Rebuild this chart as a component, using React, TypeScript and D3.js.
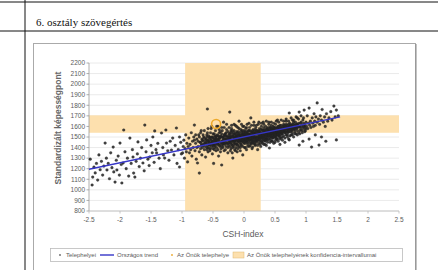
import { scaleLinear, line } from 'd3';

const heading = '6. osztály szövegértés';
const yTitle = 'Standardizált képességpont';
const xTitle = 'CSH-index';

const yTicks = [800, 900, 1000, 1100, 1200, 1300, 1400, 1500, 1600, 1700, 1800, 1900, 2000, 2100, 2200];
const xTicks = [-2.5, -2, -1.5, -1, -0.5, 0, 0.5, 1, 1.5, 2, 2.5];

// confidence intervals of the own site
const bandX = [-0.95, 0.27];
const bandY = [1540, 1705];
const ownSite = [-0.45, 1623];

const trendX = [-2.5, 1.55];
const trendY = [1195, 1690];

const leftTail: [number, number][] = [
  [-2.48, 1290], [-2.45, 1046], [-2.44, 1121], [-2.42, 1215], [-2.4, 1160], [-2.38, 1250], [-2.36, 1093],
  [-2.34, 1330], [-2.32, 1190], [-2.3, 1270], [-2.28, 1140], [-2.26, 1225], [-2.24, 1443], [-2.22, 1300],
  [-2.21, 1188], [-2.19, 1250], [-2.17, 1105], [-2.15, 1350], [-2.13, 1210], [-2.11, 1405], [-2.1, 1170],
  [-2.08, 1074], [-2.06, 1280], [-2.05, 1188], [-2.03, 1320], [-2.01, 1140], [-2.0, 1443], [-1.98, 1240],
  [-1.97, 1065], [-1.95, 1254], [-1.94, 1566], [-1.92, 1360], [-1.9, 1200], [-1.88, 1300], [-1.86, 1130],
  [-1.84, 1490], [-1.82, 1250], [-1.8, 1380], [-1.79, 1311], [-1.78, 1159], [-1.76, 1121], [-1.74, 1270],
  [-1.72, 1340], [-1.71, 1453], [-1.69, 1220], [-1.67, 1300], [-1.65, 1400], [-1.63, 1254], [-1.61, 1180],
  [-1.6, 1613], [-1.58, 1360], [-1.57, 1472], [-1.55, 1290], [-1.53, 1230], [-1.52, 1311], [-1.5, 1420],
  [-1.48, 1350], [-1.47, 1500], [-1.45, 1260], [-1.44, 1557], [-1.42, 1380], [-1.41, 1349], [-1.39, 1440],
  [-1.37, 1300], [-1.35, 1200], [-1.33, 1538], [-1.31, 1400], [-1.3, 1330], [-1.28, 1301], [-1.26, 1566],
  [-1.25, 1443], [-1.23, 1370], [-1.21, 1280], [-1.19, 1460], [-1.17, 1377], [-1.15, 1490], [-1.13, 1330],
  [-1.11, 1420], [-1.09, 1585], [-1.08, 1250], [-1.06, 1380], [-1.04, 1500], [-1.04, 1216], [-1.02, 1450],
  [-1.01, 1340], [-0.99, 1349], [-0.98, 1410]
];

const midPoints: [number, number][] = [
  [-0.97, 1470], [-0.96, 1300], [-0.95, 1390], [-0.94, 1520], [-0.93, 1360], [-0.92, 1440], [-0.91, 1264],
  [-0.9, 1410], [-0.89, 1490], [-0.88, 1350], [-0.87, 1430], [-0.86, 1380], [-0.85, 1540], [-0.84, 1320],
  [-0.83, 1460], [-0.82, 1400], [-0.81, 1500], [-0.8, 1613], [-0.79, 1370], [-0.78, 1440], [-0.77, 1290],
  [-0.76, 1480], [-0.75, 1254], [-0.74, 1410], [-0.73, 1520], [-0.72, 1159], [-0.72, 1360], [-0.71, 1450],
  [-0.7, 1390], [-0.69, 1560], [-0.68, 1330], [-0.67, 1470], [-0.66, 1420], [-0.65, 1500], [-0.64, 1380],
  [-0.63, 1440], [-0.62, 1310], [-0.61, 1480], [-0.6, 1400], [-0.59, 1765], [-0.59, 1540], [-0.58, 1360],
  [-0.57, 1460], [-0.56, 1430], [-0.55, 1500], [-0.54, 1390], [-0.53, 1580], [-0.52, 1450], [-0.51, 1340],
  [-0.5, 1420], [-0.5, 1490], [-0.49, 1250], [-0.48, 1530], [-0.47, 1400], [-0.46, 1460], [-0.45, 1370],
  [-0.44, 1510], [-0.43, 1440], [-0.42, 1600], [-0.41, 1320], [-0.4, 1480], [-0.39, 1410], [-0.38, 1550],
  [-0.37, 1390], [-0.36, 1235], [-0.36, 1460], [-0.35, 1500], [-0.34, 1430], [-0.33, 1640], [-0.32, 1370],
  [-0.31, 1520], [-0.3, 1450], [-0.29, 1410], [-0.28, 1570], [-0.27, 1480], [-0.26, 1350], [-0.25, 1440],
  [-0.24, 1500], [-0.23, 1736], [-0.23, 1410]
];

const corePoints: [number, number][] = [
  [-0.22, 1460], [-0.22, 1540], [-0.21, 1390], [-0.21, 1500], [-0.2, 1430], [-0.2, 1580], [-0.19, 1470],
  [-0.19, 1350], [-0.18, 1301], [-0.18, 1520], [-0.17, 1450], [-0.17, 1410], [-0.16, 1560], [-0.16, 1490],
  [-0.15, 1380], [-0.15, 1530], [-0.14, 1440], [-0.14, 1610], [-0.13, 1470], [-0.13, 1400], [-0.12, 1510],
  [-0.12, 1550], [-0.11, 1430], [-0.11, 1360], [-0.1, 1490], [-0.1, 1590], [-0.09, 1460], [-0.09, 1520],
  [-0.08, 1410], [-0.08, 1650], [-0.07, 1480], [-0.07, 1540], [-0.06, 1440], [-0.06, 1370], [-0.05, 1500],
  [-0.05, 1570], [-0.04, 1460], [-0.04, 1420], [-0.03, 1530], [-0.03, 1490], [-0.02, 1330], [-0.02, 1600],
  [-0.01, 1450], [-0.01, 1510], [0.0, 1470], [0.0, 1560], [0.01, 1400], [0.01, 1530], [0.02, 1490],
  [0.02, 1440], [0.03, 1580], [0.03, 1510], [0.04, 1460], [0.04, 1380], [0.05, 1540], [0.05, 1620],
  [0.06, 1480], [0.06, 1430], [0.07, 1520], [0.07, 1560], [0.08, 1450], [0.08, 1500], [0.09, 1410],
  [0.09, 1590], [0.1, 1470], [0.1, 1530], [0.11, 1440], [0.11, 1680], [0.12, 1500], [0.12, 1550],
  [0.13, 1460], [0.13, 1390], [0.14, 1405], [0.14, 1520], [0.15, 1570], [0.15, 1480], [0.16, 1440],
  [0.16, 1610], [0.17, 1510], [0.17, 1460], [0.18, 1540], [0.18, 1420], [0.19, 1490], [0.19, 1590],
  [0.2, 1530], [0.2, 1450], [0.21, 1500], [0.21, 1560], [0.22, 1470], [0.22, 1380], [0.23, 1550],
  [0.23, 1620], [0.24, 1490], [0.24, 1440], [0.25, 1520], [0.25, 1580], [0.26, 1460], [0.26, 1500],
  [0.27, 1540], [0.27, 1410], [0.28, 1480], [0.28, 1600], [0.29, 1520], [0.29, 1450], [0.3, 1560],
  [0.3, 1500], [0.31, 1470], [0.31, 1640], [0.32, 1530], [0.32, 1430], [0.33, 1490], [0.33, 1570],
  [0.34, 1510], [0.34, 1460], [0.35, 1550], [0.35, 1600], [0.36, 1480], [0.36, 1420], [0.37, 1530],
  [0.37, 1580], [0.38, 1500], [0.38, 1450], [0.39, 1560], [0.39, 1510], [0.4, 1620], [0.4, 1480],
  [0.41, 1396], [0.41, 1540], [0.42, 1520], [0.42, 1590], [0.43, 1470], [0.43, 1550], [0.44, 1500],
  [0.44, 1640], [0.45, 1530], [0.45, 1460], [0.46, 1570], [0.46, 1510], [0.47, 1490], [0.47, 1600],
  [0.48, 1550], [0.48, 1440], [0.49, 1520], [0.49, 1580], [0.5, 1500], [0.5, 1560], [0.51, 1470],
  [0.51, 1620], [0.52, 1540], [0.52, 1510], [0.53, 1590], [0.53, 1480], [0.54, 1550], [0.54, 1660],
  [0.55, 1520], [0.55, 1460], [0.56, 1570], [0.56, 1600], [0.57, 1500], [0.57, 1540], [0.58, 1430],
  [0.58, 1610], [0.59, 1560], [0.59, 1520], [0.6, 1580], [0.6, 1490]
];

const coreFill: [number, number][] = [
  [-0.7, 1450], [-0.69, 1420], [-0.68, 1480], [-0.67, 1400], [-0.66, 1460], [-0.65, 1430], [-0.64, 1490],
  [-0.63, 1410], [-0.62, 1470], [-0.61, 1440], [-0.6, 1500], [-0.59, 1420], [-0.58, 1470], [-0.57, 1510],
  [-0.56, 1450], [-0.55, 1420], [-0.54, 1480], [-0.53, 1440], [-0.52, 1500], [-0.51, 1460], [-0.5, 1530],
  [-0.49, 1430], [-0.48, 1480], [-0.47, 1510], [-0.46, 1420], [-0.45, 1490], [-0.44, 1450], [-0.43, 1520],
  [-0.42, 1470], [-0.41, 1430], [-0.4, 1540], [-0.39, 1490], [-0.38, 1450], [-0.37, 1510], [-0.36, 1430],
  [-0.35, 1560], [-0.34, 1470], [-0.33, 1500], [-0.32, 1440], [-0.31, 1480], [-0.3, 1530], [-0.29, 1470],
  [-0.28, 1500], [-0.27, 1440], [-0.26, 1550], [-0.25, 1480], [-0.24, 1460], [-0.23, 1520], [-0.22, 1490],
  [-0.21, 1450], [-0.2, 1510], [-0.19, 1560], [-0.18, 1470], [-0.17, 1500], [-0.16, 1430], [-0.15, 1480],
  [-0.14, 1530], [-0.13, 1500], [-0.12, 1470], [-0.11, 1540], [-0.1, 1450], [-0.09, 1490], [-0.08, 1520],
  [-0.07, 1460], [-0.06, 1510], [-0.05, 1470], [-0.04, 1550], [-0.03, 1460], [-0.02, 1520], [-0.01, 1480],
  [0.0, 1510], [0.01, 1470], [0.02, 1550], [0.03, 1460], [0.04, 1520], [0.05, 1490], [0.06, 1530],
  [0.07, 1480], [0.08, 1560], [0.09, 1500], [0.1, 1510], [0.11, 1480], [0.12, 1470], [0.13, 1540],
  [0.14, 1490], [0.15, 1520], [0.16, 1500], [0.17, 1550], [0.18, 1490], [0.19, 1530], [0.2, 1500],
  [0.21, 1470], [0.22, 1530], [0.23, 1500], [0.24, 1560], [0.25, 1480], [0.26, 1540], [0.27, 1510],
  [0.28, 1530], [0.29, 1570], [0.3, 1490], [0.31, 1530], [0.32, 1560], [0.33, 1520], [0.34, 1550],
  [0.35, 1490], [0.36, 1540], [0.37, 1510], [0.38, 1570], [0.39, 1530], [0.4, 1550], [0.41, 1510],
  [0.42, 1560], [0.43, 1520], [0.44, 1570], [0.45, 1500], [0.46, 1540], [0.47, 1560], [0.48, 1520],
  [0.49, 1550], [0.5, 1590], [0.51, 1530], [0.52, 1560], [0.53, 1520], [0.54, 1580], [0.55, 1540],
  [0.56, 1520], [0.57, 1570], [0.58, 1550], [0.59, 1590], [0.6, 1540], [0.62, 1560], [0.64, 1580],
  [0.66, 1560], [0.68, 1590], [0.7, 1550], [0.72, 1580], [0.74, 1600], [0.76, 1570], [0.78, 1600],
  [0.8, 1580], [0.82, 1610], [0.84, 1590], [0.86, 1620], [0.88, 1600], [0.9, 1560]
];

const coreDense: [number, number][] = [
  [-0.6, 1380], [-0.59, 1460], [-0.58, 1400], [-0.57, 1440], [-0.56, 1490], [-0.55, 1370], [-0.54, 1430],
  [-0.53, 1470], [-0.52, 1410], [-0.51, 1500], [-0.5, 1390], [-0.49, 1450], [-0.48, 1420], [-0.47, 1470],
  [-0.46, 1500], [-0.45, 1440], [-0.44, 1400], [-0.43, 1480], [-0.42, 1430], [-0.41, 1510], [-0.4, 1460],
  [-0.39, 1420], [-0.38, 1500], [-0.37, 1450], [-0.36, 1530], [-0.35, 1410], [-0.34, 1490], [-0.33, 1450],
  [-0.32, 1520], [-0.31, 1430], [-0.3, 1480], [-0.29, 1540], [-0.28, 1440], [-0.27, 1510], [-0.26, 1470],
  [-0.25, 1420], [-0.24, 1530], [-0.23, 1480], [-0.22, 1440], [-0.21, 1560], [-0.2, 1470], [-0.19, 1420],
  [-0.18, 1500], [-0.17, 1540], [-0.16, 1460], [-0.15, 1510], [-0.14, 1470], [-0.13, 1430], [-0.12, 1490],
  [-0.11, 1510], [-0.1, 1420], [-0.09, 1550], [-0.08, 1470], [-0.07, 1510], [-0.06, 1480], [-0.05, 1430],
  [-0.04, 1500], [-0.03, 1560], [-0.02, 1470], [-0.01, 1540], [0.0, 1440], [0.01, 1500], [0.02, 1520],
  [0.03, 1480], [0.04, 1550], [0.05, 1450], [0.06, 1510], [0.07, 1500], [0.08, 1530], [0.09, 1470],
  [0.1, 1560], [0.11, 1520], [0.12, 1440], [0.13, 1500], [0.14, 1560], [0.15, 1460], [0.16, 1530],
  [0.17, 1480], [0.18, 1570], [0.19, 1460], [0.2, 1560], [0.21, 1530], [0.22, 1500], [0.23, 1470],
  [0.24, 1530], [0.25, 1550], [0.26, 1490], [0.27, 1570], [0.28, 1460], [0.29, 1500], [0.3, 1540],
  [0.31, 1500], [0.32, 1590], [0.33, 1470], [0.34, 1530], [0.35, 1520], [0.36, 1570], [0.37, 1480],
  [0.38, 1540], [0.39, 1590], [0.4, 1510], [0.41, 1570], [0.42, 1490], [0.43, 1590], [0.44, 1530],
  [0.45, 1580], [0.46, 1490], [0.47, 1530], [0.48, 1590], [0.49, 1500], [0.5, 1540], [0.51, 1580],
  [0.52, 1490], [0.53, 1550], [0.54, 1520], [0.55, 1600], [0.56, 1550], [0.57, 1510], [0.58, 1580],
  [0.59, 1540], [0.6, 1610], [0.61, 1570], [0.62, 1530], [0.63, 1600], [0.64, 1550], [0.65, 1610],
  [0.66, 1590], [0.67, 1540], [0.68, 1620], [0.69, 1580], [0.7, 1610], [0.71, 1570], [0.72, 1600],
  [0.73, 1550], [0.74, 1630], [0.75, 1590], [0.76, 1610], [0.77, 1560], [0.78, 1620], [0.79, 1590],
  [0.8, 1640], [0.82, 1570], [0.84, 1620], [0.86, 1590], [0.88, 1630], [0.9, 1600], [0.92, 1640],
  [0.94, 1590], [0.96, 1630], [0.98, 1600], [1.0, 1580]
];

const coreOuter: [number, number][] = [
  [-0.8, 1470], [-0.78, 1520], [-0.76, 1400], [-0.74, 1460], [-0.72, 1500], [-0.7, 1540], [-0.68, 1430],
  [-0.66, 1520], [-0.64, 1560], [-0.62, 1450], [-0.6, 1520], [-0.58, 1580], [-0.56, 1390], [-0.54, 1540],
  [-0.52, 1600], [-0.5, 1460], [-0.48, 1380], [-0.46, 1560], [-0.44, 1600], [-0.42, 1380], [-0.4, 1570],
  [-0.38, 1360], [-0.36, 1590], [-0.34, 1400], [-0.32, 1590], [-0.3, 1380], [-0.28, 1620], [-0.26, 1400],
  [-0.24, 1590], [-0.22, 1370], [-0.2, 1610], [-0.18, 1400], [-0.16, 1620], [-0.14, 1370], [-0.12, 1600],
  [-0.1, 1390], [-0.08, 1580], [-0.06, 1400], [-0.04, 1620], [-0.02, 1410], [0.0, 1600], [0.02, 1400],
  [0.04, 1590], [0.06, 1410], [0.08, 1630], [0.1, 1420], [0.12, 1610], [0.14, 1440], [0.16, 1640],
  [0.18, 1430], [0.2, 1610], [0.22, 1420], [0.24, 1640], [0.26, 1430], [0.28, 1630], [0.3, 1440],
  [0.32, 1620], [0.34, 1430], [0.36, 1650], [0.38, 1470], [0.4, 1640], [0.42, 1450], [0.44, 1610],
  [0.46, 1460], [0.48, 1630], [0.5, 1450], [0.52, 1650], [0.54, 1480], [0.56, 1640], [0.58, 1480],
  [0.6, 1660], [0.62, 1500], [0.64, 1650], [0.66, 1490], [0.68, 1670], [0.7, 1520], [0.72, 1650],
  [0.74, 1510], [0.76, 1680], [0.78, 1520], [0.8, 1660], [0.82, 1530], [0.84, 1690], [0.86, 1520],
  [0.88, 1670], [0.9, 1530], [0.92, 1700], [0.94, 1560], [0.96, 1680], [0.98, 1550],
  [-0.45, 1470], [-0.35, 1450], [-0.25, 1500], [-0.15, 1460], [-0.05, 1520], [0.05, 1470], [0.15, 1540],
  [0.25, 1510], [0.35, 1470], [0.45, 1550], [-0.4, 1500], [-0.3, 1510], [-0.2, 1540], [-0.1, 1520],
  [0.0, 1530], [0.1, 1490], [0.2, 1480], [0.3, 1520], [0.4, 1530], [0.5, 1520]
];

const rightTail: [number, number][] = [
  [0.61, 1530], [0.62, 1590], [0.62, 1470], [0.63, 1550], [0.64, 1620], [0.64, 1510], [0.65, 1570],
  [0.66, 1540], [0.66, 1450], [0.67, 1600], [0.68, 1520], [0.68, 1650], [0.69, 1560], [0.7, 1500],
  [0.7, 1590], [0.71, 1540], [0.72, 1620], [0.72, 1480], [0.73, 1727], [0.73, 1472], [0.74, 1570],
  [0.75, 1550], [0.75, 1610], [0.76, 1520], [0.77, 1590], [0.78, 1660], [0.78, 1540], [0.79, 1570],
  [0.8, 1500], [0.8, 1620], [0.81, 1580], [0.82, 1550], [0.83, 1640], [0.83, 1600], [0.84, 1530],
  [0.85, 1580], [0.86, 1680], [0.86, 1560], [0.87, 1610], [0.88, 1540], [0.89, 1736], [0.89, 1424],
  [0.9, 1590], [0.91, 1630], [0.92, 1570], [0.93, 1610], [0.94, 1540], [0.95, 1660], [0.95, 1460],
  [0.96, 1600], [0.97, 1755], [0.97, 1580], [0.98, 1620], [0.99, 1560], [1.0, 1640], [1.01, 1600],
  [1.02, 1700], [1.03, 1580], [1.04, 1630], [1.05, 1774], [1.05, 1480], [1.06, 1610], [1.07, 1650],
  [1.08, 1590], [1.09, 1405], [1.1, 1680], [1.11, 1630], [1.12, 1600], [1.13, 1720], [1.14, 1650],
  [1.15, 1610], [1.15, 1520], [1.16, 1690], [1.18, 1822], [1.18, 1640], [1.2, 1670], [1.21, 1424],
  [1.22, 1620], [1.23, 1700], [1.25, 1660], [1.25, 1500], [1.26, 1760], [1.28, 1640], [1.3, 1690],
  [1.31, 1600], [1.32, 1460], [1.33, 1720], [1.35, 1650], [1.37, 1680], [1.4, 1740], [1.42, 1660],
  [1.45, 1793], [1.47, 1690], [1.49, 1755], [1.49, 1472], [1.52, 1700]
];

const legendLabels = ['Telephelyei', 'Országos trend', 'Az Önök telephelye', 'Az Önök telephelyének konfidencia-intervallumai'];

const bandColor = '#fde0ae';
const ownColor = '#eda92a';
const trendColor = '#3636c8';
const textColor = '#5a5a5a';

export default function App() {
  const x = scaleLinear().domain([-2.5, 2.5]).range([89, 399]);
  const y = scaleLinear().domain([800, 2200]).range([211, 63]);
  const sites = [...leftTail, ...midPoints, ...corePoints, ...coreFill, ...coreDense, ...coreOuter, ...rightTail];
  const trendPath = line<number>()
    .x((d) => x(d))
    .y((_, i) => y(trendY[i]))(trendX);

  return (
    <svg
      width={438}
      height={270}
      style={{ position: 'absolute', left: 0, top: 0, background: '#fff' }}
      fontFamily="'Liberation Sans', Arial, sans-serif"
    >
      {/* table lines around the chart */}
      <line x1={0} x2={438} y1={2} y2={2} stroke="#111" />
      <line x1={0} x2={438} y1={31} y2={31} stroke="#111" />
      <line x1={25} x2={25} y1={0} y2={270} stroke="#111" />
      <text x={36} y={26} fontFamily="'Liberation Serif', serif" fontSize={11} fill="#111">
        {heading}
      </text>

      {/* chart frame */}
      <rect x={33.5} y={43.5} width={382} height={240} fill="#fff" stroke="#aaa" />
      <line x1={416} x2={416} y1={44} y2={270} stroke="#888" />

      {/* gridlines */}
      {yTicks.map((t) => (
        <line key={t} x1={x(-2.5)} x2={x(2.5)} y1={y(t)} y2={y(t)} stroke="#e4e4e4" strokeWidth={0.8} />
      ))}

      {/* confidence bands */}
      <rect x={x(bandX[0])} y={y(2200)} width={x(bandX[1]) - x(bandX[0])} height={y(800) - y(2200)} fill={bandColor} />
      <rect x={x(-2.5)} y={y(bandY[1])} width={x(2.5) - x(-2.5)} height={y(bandY[0]) - y(bandY[1])} fill={bandColor} />

      {/* axes */}
      <line x1={x(-2.5)} x2={x(-2.5)} y1={y(2200)} y2={y(800)} stroke="#999" strokeWidth={0.8} />
      <line x1={x(-2.5)} x2={x(2.5)} y1={y(800)} y2={y(800)} stroke="#bbb" strokeWidth={0.8} />
      {yTicks.map((t) => (
        <g key={t}>
          <line x1={x(-2.5) - 2.5} x2={x(-2.5)} y1={y(t)} y2={y(t)} stroke="#999" strokeWidth={0.8} />
          <text x={x(-2.5) - 4} y={y(t)} dy="0.35em" textAnchor="end" fontSize={6.5} fill={textColor}>
            {t}
          </text>
        </g>
      ))}
      {xTicks.map((t) => (
        <g key={t}>
          <line x1={x(t)} x2={x(t)} y1={y(800)} y2={y(800) + 2.5} stroke="#bbb" strokeWidth={0.8} />
          <text x={x(t)} y={222} textAnchor="middle" fontSize={6.5} fill={textColor}>
            {t}
          </text>
        </g>
      ))}
      <text
        transform={`translate(61, ${(y(2200) + y(800)) / 2 - 9}) rotate(-90)`}
        textAnchor="middle"
        fontSize={8.5}
        fontWeight="bold"
        fill="#666"
      >
        {yTitle}
      </text>
      <text x={243} y={237} textAnchor="middle" fontSize={8.5} fill={textColor}>
        {xTitle}
      </text>

      {/* sites */}
      {sites.map((d, i) => (
        <circle key={i} cx={x(d[0])} cy={y(d[1])} r={1.35} fill="#222" fillOpacity={0.85} stroke="#222" strokeWidth={0.3} />
      ))}

      <path d={trendPath ?? ''} fill="none" stroke={trendColor} strokeWidth={1.4} />
      <circle cx={x(ownSite[0])} cy={y(ownSite[1])} r={4.5} fill="none" stroke={ownColor} strokeWidth={1.6} />

      {/* legend */}
      <rect x={50.5} y={248.5} width={352} height={13} fill="#fff" stroke="#bbb" strokeWidth={0.8} />
      <circle cx={60} cy={255} r={0.9} fill="#666" />
      <text x={66} y={257} fontSize={6} fill={textColor}>{legendLabels[0]}</text>
      <line x1={100} x2={114} y1={255} y2={255} stroke={trendColor} strokeWidth={1.4} />
      <text x={117} y={257} fontSize={6} fill={textColor}>{legendLabels[1]}</text>
      <circle cx={172} cy={255} r={0.9} fill={ownColor} />
      <text x={177} y={257} fontSize={6} fill={textColor}>{legendLabels[2]}</text>
      <rect x={233} y={252} width={11} height={6} fill={bandColor} stroke="#e0b870" strokeWidth={0.5} />
      <text x={247} y={257} fontSize={6} fill={textColor}>{legendLabels[3]}</text>
    </svg>
  );
}
